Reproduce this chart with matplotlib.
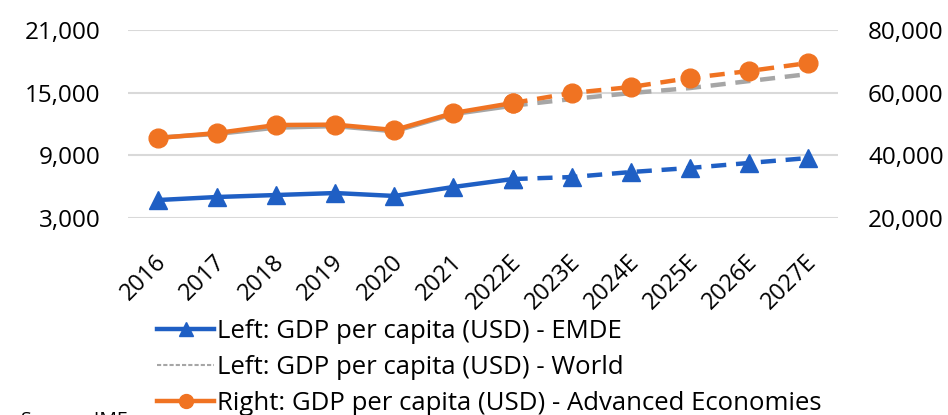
import matplotlib
matplotlib.use("Agg")
import matplotlib.pyplot as plt
from matplotlib.lines import Line2D
from matplotlib.transforms import ScaledTranslation

plt.rcParams['font.family'] = ['Open Sans', 'DejaVu Sans']

# GDP per capita (USD), IMF; 2022 onwards are estimates
years = ['2016', '2017', '2018', '2019', '2020', '2021',
         '2022E', '2023E', '2024E', '2025E', '2026E', '2027E']
emde = [4720, 5010, 5200, 5390, 5110, 5970, 6730, 6920, 7400, 7790, 8270, 8740]
world = [10700, 11050, 11650, 11800, 11300, 12950, 13750, 14390, 14960, 15440, 16110, 16780]
advanced = [45530, 47120, 49680, 49800, 48080, 53510, 56700, 59890, 61800, 64670, 66910, 69460]

left_ticks = [3000, 9000, 15000, 21000]
right_ticks = [20000, 40000, 60000, 80000]

BLUE = '#1F5FC4'
GREY = '#A6A6A6'
ORANGE = '#F07322'
split = years.index('2022E')
dash = (0, (3.4, 2.2))

fig = plt.figure(figsize=(9.48, 4.15), dpi=100)
ax = fig.add_axes([0.1355, 0.4747, 0.748, 0.453])
ax2 = ax.twinx()

x = list(range(len(years)))
hist = x[:split + 1]
fcst = x[split:]

# left axis: EMDE and World
ax.plot(hist, world[:split + 1], color=GREY, lw=3.2, solid_capstyle='round')
ax.plot(fcst, world[split:], color=GREY, lw=3.2, linestyle=dash)
ax.plot(hist, emde[:split + 1], color=BLUE, lw=3.2, marker='^', ms=13)
ax.plot(fcst, emde[split:], color=BLUE, lw=3.2, linestyle=dash, marker='^', ms=13)

# right axis: Advanced Economies
ax2.plot(hist, advanced[:split + 1], color=ORANGE, lw=3.2, marker='o', ms=13.5)
ax2.plot(fcst, advanced[split:], color=ORANGE, lw=3.2, linestyle=dash, marker='o', ms=13.5)

ax.set_xlim(-0.5, len(years) - 0.5)
ax.set_ylim(3000, 21000)
ax2.set_ylim(20000, 80000)
ax.set_yticks(left_ticks)
ax.set_yticklabels([f'{v:,}' for v in left_ticks])
ax2.set_yticks(right_ticks)
ax2.set_yticklabels([f'{v:,}' for v in right_ticks])
ax.set_xticks(x)
ax.set_xticklabels(years, rotation=45, ha='right', va='center',
                   rotation_mode='anchor')

ax.grid(axis='y', color='#D9D9D9', lw=1.5)
ax.set_axisbelow(True)
for a in (ax, ax2):
    for s in a.spines.values():
        s.set_visible(False)
    a.tick_params(length=0, labelsize=17.5)
ax.tick_params(axis='y', pad=20)
ax2.tick_params(axis='y', pad=22)
ax.tick_params(axis='x', pad=29, labelsize=17)

# nudge the rotated year labels a little to the right
shift = ScaledTranslation(5 / 100, 0, fig.dpi_scale_trans)
for lbl in ax.get_xticklabels():
    lbl.set_transform(lbl.get_transform() + shift)

handles = [
    Line2D([], [], color=BLUE, lw=3.2, marker='^', ms=10),
    Line2D([], [], color=GREY, lw=1.5, linestyle=(0, (2, 1))),
    Line2D([], [], color=ORANGE, lw=3.2, marker='o', ms=10),
]
labels = [
    'Left: GDP per capita (USD) - EMDE',
    'Left: GDP per capita (USD) - World',
    'Right: GDP per capita (USD) - Advanced Economies',
]
fig.legend(handles, labels, loc='upper left', bbox_to_anchor=(0.166, 0.232),
           frameon=False, fontsize=18.5, borderpad=0, borderaxespad=0,
           handlelength=2.2, handletextpad=0.12, labelspacing=0.43)

fig.text(0.022, 0.0096, 'Source: IMF', fontsize=14, va='top', ha='left')

fig.savefig('out.png', dpi=100)
plt.close(fig)
